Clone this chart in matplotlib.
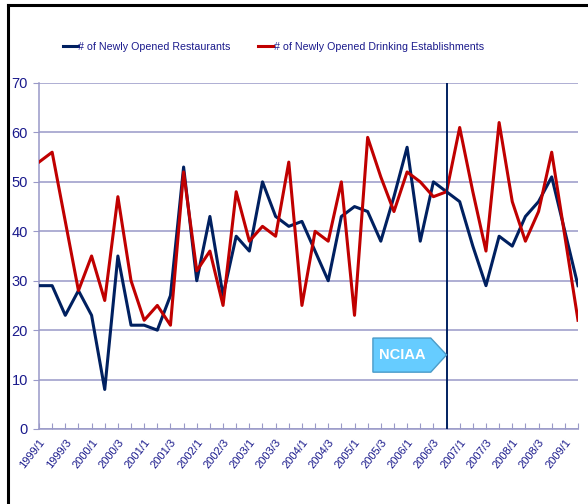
import matplotlib.pyplot as plt
from matplotlib.lines import Line2D
from matplotlib.patches import Polygon

quarters = [f"{y}/{q}" for y in range(1999, 2010) for q in range(1, 5)][:42]

restaurants = [29, 29, 23, 28, 23, 8, 35, 21, 21, 20, 27, 53, 30, 43, 27, 39,
               36, 50, 43, 41, 42, 36, 30, 43, 45, 44, 38, 47, 57, 38, 50, 48,
               46, 37, 29, 39, 37, 43, 46, 51, 40, 29]
drinking = [54, 56, 42, 28, 35, 26, 47, 30, 22, 25, 21, 52, 32, 36, 25, 48,
            38, 41, 39, 54, 25, 40, 38, 50, 23, 59, 51, 44, 52, 50, 47, 48,
            61, 48, 36, 62, 46, 38, 44, 56, 39, 22]
event_quarter = "2006/4"
event_label = "NCIAA"

NAVY = "#002060"
RED = "#C00000"
GRID = "#9999C8"
TXT = "#1A1A8C"

plt.rcParams['font.family'] = ['Liberation Sans', 'DejaVu Sans']

fig = plt.figure(figsize=(5.88, 5.04), dpi=100)
ax = fig.add_axes([39/588, 1-429/504, 539/588, 346/504])

x = list(range(len(quarters)))
ax.plot(x, restaurants, color=NAVY, lw=2.2, label="# of Newly Opened Restaurants", zorder=3)
ax.plot(x, drinking, color=RED, lw=2.2, label="# of Newly Opened Drinking Establishments", zorder=3)

ax.set_xlim(0, len(quarters) - 1)
ax.set_ylim(0, 70)
ax.set_yticks(range(0, 71, 10))
ax.yaxis.grid(True, color=GRID, lw=1.1)
ax.set_axisbelow(True)
for s in ["top", "right"]:
    ax.spines[s].set_visible(False)
for s in ["left", "bottom"]:
    ax.spines[s].set_color(GRID)
    ax.spines[s].set_linewidth(1.1)

ax.set_xticks(x)
ax.set_xticklabels([q if i % 2 == 0 else "" for i, q in enumerate(quarters)],
                   rotation=52, ha="right", va="top", rotation_mode="anchor",
                   fontsize=8, color=TXT)
ax.tick_params(axis="x", direction="in", length=4, color=GRID, pad=6)
ax.tick_params(axis="y", direction="out", length=4, color=GRID, pad=4,
               labelsize=10.5, labelcolor=TXT)

# event marker
ei = quarters.index(event_quarter)
ax.axvline(ei, color=NAVY, lw=1.4, zorder=4)
box = Polygon([[ei - 5.6, 11.5], [ei - 1.2, 11.5], [ei, 15], [ei - 1.2, 18.4],
               [ei - 5.6, 18.4]], closed=True, facecolor="#66CCFF",
              edgecolor="#4A9BC8", lw=1, zorder=5)
ax.add_patch(box)
ax.text(ei - 3.4, 15, event_label, color="white", fontsize=10.5, fontweight="bold",
        ha="center", va="center", zorder=6)

fig.legend(loc="center", bbox_to_anchor=(0.465, 0.907), ncol=2, frameon=False,
           handlelength=1.4, handletextpad=0.05, columnspacing=2.6,
           fontsize=7.7, labelcolor=TXT)

# frame border
fig.add_artist(Line2D([7.5/588, 7.5/588], [0, 1-5/504], color="black", lw=2.2))
fig.add_artist(Line2D([7.5/588, 1], [1-5/504, 1-5/504], color="black", lw=2.2))

fig.savefig("out.png", dpi=100)
